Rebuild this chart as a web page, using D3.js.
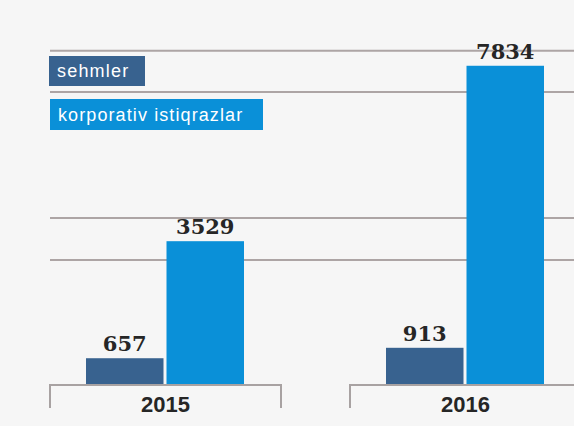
<!DOCTYPE html>
<html>
<head>
<meta charset="utf-8">
<script src="https://cdn.jsdelivr.net/npm/d3@7"></script>
<style>
  html, body { margin: 0; padding: 0; background: #f6f6f6; }
  svg { display: block; }
</style>
</head>
<body>
<div id="chart"></div>
<script>
// sehmler vs korporativ istiqrazlar, 2015-2016
const years = ['2015', '2016'];
const seriesKeys = ['sehmler', 'korporativ istiqrazlar'];
const sehmler = [657, 913];
const korporativ = [3529, 7834];
const gridValues = [3070, 4100, 7190, 8200];

const COLORS = ['#38628f', '#0a90d8'];

const width = 574, height = 426;
const svg = d3.select('#chart').append('svg')
  .attr('width', width).attr('height', height);

svg.append('rect').attr('width', width).attr('height', height).attr('fill', '#f6f6f6');

const y = d3.scaleLinear().domain([0, 8000]).range([385, 59]);
const x = d3.scaleBand().domain(years).range([50, 581]).paddingInner(0.23).paddingOuter(0);
const xs = d3.scaleBand().domain(seriesKeys).range([36, 194]).paddingInner(0.0375);

// linii fonda
svg.append('g').selectAll('line').data(gridValues).join('line')
  .attr('x1', 50).attr('x2', width)
  .attr('y1', d => y(d)).attr('y2', d => y(d))
  .attr('stroke', '#ada5a5').attr('stroke-width', 2);

// legend
const legend = svg.append('g');
const legendBoxes = [
  { x: 49, y: 56, w: 96, h: 30 },
  { x: 50, y: 99, w: 213, h: 31 }
];
seriesKeys.forEach((k, i) => {
  const b = legendBoxes[i];
  legend.append('rect').attr('x', b.x).attr('y', b.y).attr('width', b.w).attr('height', b.h)
    .attr('fill', COLORS[i]);
  legend.append('text').attr('x', b.x + 8).attr('y', b.y + b.h / 2).attr('dy', '0.36em')
    .attr('fill', '#fff').attr('font-family', 'Liberation Sans, Arial, sans-serif')
    .attr('font-size', '18px').attr('letter-spacing', i === 0 ? '1.2px' : '1.1px')
    .text(k);
});

// bars
const rows = years.map((yr, i) => ({ year: yr, values: [sehmler[i], korporativ[i]] }));
const groups = svg.append('g').selectAll('g').data(rows).join('g')
  .attr('transform', d => `translate(${x(d.year)},0)`);

groups.each(function (d) {
  const g = d3.select(this);
  d.values.forEach((v, i) => {
    const k = seriesKeys[i];
    g.append('rect')
      .attr('x', xs(k)).attr('width', xs.bandwidth())
      .attr('y', y(v)).attr('height', y(0) - y(v))
      .attr('fill', COLORS[i]);
    g.append('text')
      .attr('x', xs(k) + xs.bandwidth() / 2).attr('y', y(v) - 7)
      .attr('text-anchor', 'middle')
      .attr('font-family', 'DejaVu Serif, serif').attr('font-weight', 'bold')
      .attr('font-size', '21px').attr('fill', '#262626')
      .text(v);
  });

  // skobka osi
  const bw = x.bandwidth();
  g.append('path')
    .attr('d', `M0,${y(0) + 23}V${y(0)}H${bw}V${y(0) + 23}`)
    .attr('fill', 'none').attr('stroke', '#a8a2a2').attr('stroke-width', 2);

  g.append('text')
    .attr('x', bw / 2).attr('y', 412)
    .attr('text-anchor', 'middle')
    .attr('font-family', 'Liberation Sans, Arial, sans-serif').attr('font-weight', 'bold')
    .attr('font-size', '22px').attr('fill', '#262626')
    .text(d.year);
});
</script>
</body>
</html>
